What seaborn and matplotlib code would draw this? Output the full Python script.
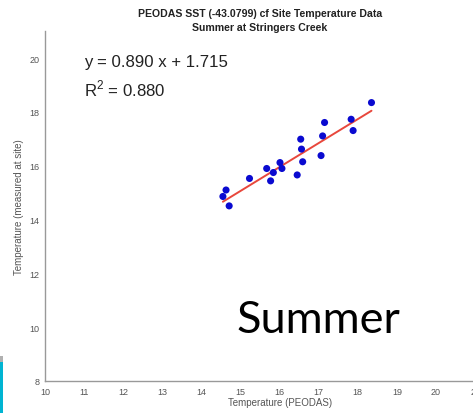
import numpy as np
import pandas as pd
import matplotlib
matplotlib.use("Agg")
import matplotlib.pyplot as plt
import seaborn as sns
from matplotlib.patches import Rectangle

# PEODAS SST vs. site-measured temperature, summer, Stringers Creek
peodas_temp = [14.55, 14.63, 14.71, 15.23, 15.67, 15.77, 15.84, 16.01, 16.06,
               16.45, 16.54, 16.56, 16.59, 17.06, 17.10, 17.15, 17.83, 17.88, 18.35]
site_temp = [14.86, 15.10, 14.51, 15.53, 15.90, 15.44, 15.75, 16.12, 15.90,
             15.66, 16.99, 16.62, 16.15, 16.38, 17.11, 17.61, 17.73, 17.31, 18.35]

# Linear fit reported on the chart
slope = 0.890
intercept = 1.715
r_squared = 0.880

x_ticks = list(range(10, 22))
y_ticks = [8, 10, 12, 14, 16, 18, 20]

df = pd.DataFrame({"peodas": peodas_temp, "site": site_temp})
fit_x = np.array([min(peodas_temp), max(peodas_temp)])
fit_df = pd.DataFrame({"peodas": fit_x, "site": slope * fit_x + intercept})

sns.set_style("white")
plt.rcParams["font.family"] = ["Liberation Sans", "DejaVu Sans"]

W, H = 473, 414
fig = plt.figure(figsize=(W / 100, H / 100), dpi=100)
fig.patch.set_facecolor("white")

# axes extends past the right edge of the canvas
ax_left, ax_bottom = 45 / W, 32 / H
ax = fig.add_axes([ax_left, ax_bottom, 12 * 39.1 / W, 13 * 26.9 / H])

sns.scatterplot(data=df, x="peodas", y="site", ax=ax, color="#0a0ad0",
                s=26, edgecolor="none", zorder=3)
sns.lineplot(data=fit_df, x="peodas", y="site", ax=ax, color="#e8473c",
             linewidth=1.4, zorder=2)

ax.set_xlim(10, 22)
ax.set_ylim(8, 21)
ax.set_xticks(x_ticks)
ax.set_yticks(y_ticks)
ax.tick_params(direction="in", length=3, width=0.8, colors="#999999",
               labelcolor="#555555", labelsize=6.5, pad=4)
for side in ("top", "right"):
    ax.spines[side].set_visible(False)
for side in ("left", "bottom"):
    ax.spines[side].set_color("#999999")
    ax.spines[side].set_linewidth(1.0)

ax.set_xlabel("Temperature (PEODAS)", fontsize=7, color="#555555", labelpad=1)
ax.set_ylabel("Temperature (measured at site)", fontsize=7, color="#555555", labelpad=4)

fig.text(260 / W, 1 - 14 / H, "PEODAS SST (-43.0799) cf Site Temperature Data",
         ha="center", va="center", fontsize=7.6, fontweight="bold", color="#222222")
fig.text(260 / W, 1 - 28 / H, "Summer at Stringers Creek",
         ha="center", va="center", fontsize=7.6, fontweight="bold", color="#222222")

fig.text(84 / W, 1 - 63 / H, f"y = {slope:.3f} x + {intercept:.3f}",
         ha="left", va="center", fontsize=12.1, color="#222222")
fig.text(84 / W, 1 - 89 / H, r"R$^{\mathregular{2}}$" + f" = {r_squared:.3f}",
         ha="left", va="center", fontsize=12.1, color="#222222")

fig.text(236 / W, 1 - 333 / H, "Summer", ha="left", va="baseline",
         fontsize=32.5, family=["Lato", "DejaVu Sans"], color="#000000")

# slide accent bar on the left edge
fig.patches.append(Rectangle((0, 0), 2.5 / W, 51 / H, transform=fig.transFigure,
                             facecolor="#00b4d2", edgecolor="none", figure=fig))
fig.patches.append(Rectangle((0, 51 / H), 2.5 / W, 6 / H, transform=fig.transFigure,
                             facecolor="#b0b0b0", edgecolor="none", figure=fig))

fig.savefig("out.png", dpi=100)
